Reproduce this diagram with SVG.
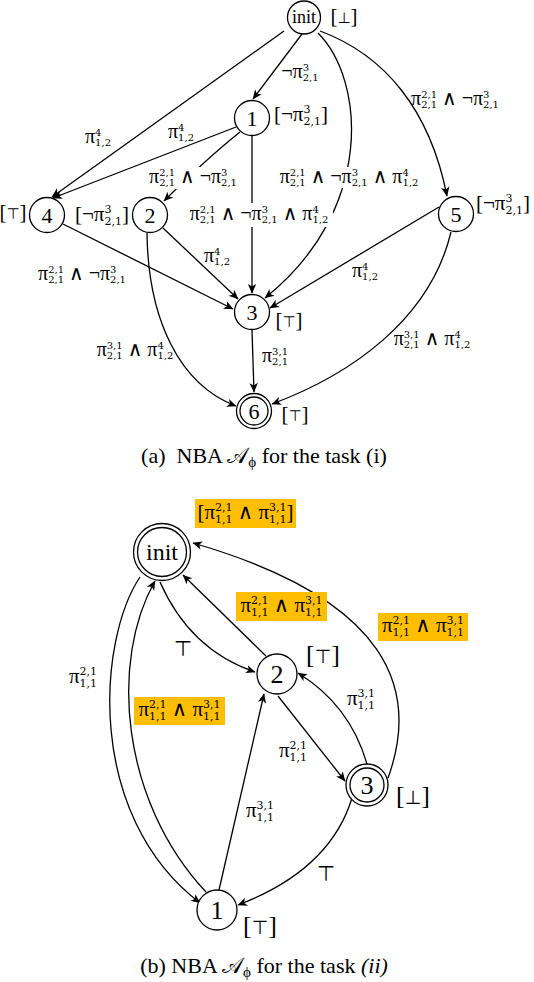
<svg xmlns="http://www.w3.org/2000/svg" width="534" height="982" viewBox="0 0 534 982">
<defs>
<marker id="ar" viewBox="-10 -5 11 10" refX="0" refY="0" markerWidth="11" markerHeight="10" orient="auto" markerUnits="userSpaceOnUse"><path d="M0.5,0 L-9,-4.2 L-6.5,0 L-9,4.2 Z" fill="#000"/></marker>
<style>
.e{fill:none;stroke:#000;stroke-width:1.3;marker-end:url(#ar)}
.nc{fill:#fff;stroke:#000;stroke-width:1.3}
.m{font-family:"Liberation Serif","DejaVu Serif",serif;font-size:20px;white-space:pre;text-anchor:middle}
.m2{font-family:"Liberation Serif","DejaVu Serif",serif;font-size:21px;white-space:pre;text-anchor:middle}
.s{font-family:"DejaVu Serif",serif;font-size:10px}
.s2{font-family:"DejaVu Serif",serif;font-size:11px}
.ann{font-family:"Liberation Serif","DejaVu Serif",serif;font-size:21px;white-space:pre;text-anchor:middle}
.ann2{font-family:"Liberation Serif","DejaVu Serif",serif;font-size:26px;white-space:pre;text-anchor:middle}
.t1{font-family:"DejaVu Sans",sans-serif;font-size:15px}
.t2{font-family:"DejaVu Sans",sans-serif;font-size:19px}
.tt{font-family:"DejaVu Sans",sans-serif;font-size:21px;text-anchor:middle}
.nd{font-family:"Liberation Serif",serif;font-size:22px;text-anchor:middle}
.nd2{font-family:"Liberation Serif",serif;font-size:26px;text-anchor:middle}
.cap{font-family:"Liberation Serif","DejaVu Serif",serif;font-size:22px;white-space:pre;text-anchor:middle}
.wb{fill:#fff}
.ob{fill:#FFBF00}
</style>
</defs>
<g id="connectors">
<path class="e" d="M284,31 L52,197"/>
<path class="e" d="M236,127 L53,198"/>
<path class="e" d="M302,34 L253,99"/>
<path class="e" d="M320,31 C385,55 430,110 447,196"/>
<path class="e" d="M318,33 C365,80 375,210 265,298"/>
<path class="e" d="M240,132 Q205,160 164,201"/>
<path class="e" d="M252,136 L252,293"/>
<path class="e" d="M63,224 L233,309"/>
<path class="e" d="M163,228 L238,299"/>
<path class="e" d="M147,233 C148,320 180,385 236,406"/>
<path class="e" d="M439,207 L270,308"/>
<path class="e" d="M451,232 C430,320 350,375 272,404"/>
<path class="e" d="M252,330 L254,392"/>
<path class="e" d="M140,577 C98,640 85,815 200,903"/>
<path class="e" d="M206,892 C120,800 110,660 155,581"/>
<path class="e" d="M160,582 Q190,650 255,672"/>
<path class="e" d="M266,656 L183,575"/>
<path class="e" d="M388,778 C420,690 390,600 193,543"/>
<path class="e" d="M278,696 L345,781"/>
<path class="e" d="M367,764 Q350,705 298,673"/>
<path class="e" d="M219,890 L264,694"/>
<path class="e" d="M352,798 Q330,870 238,905"/>
<rect class="wb" x="146" y="167" width="94" height="22"/>
<rect class="wb" x="275" y="167" width="148" height="21"/>
<rect class="wb" x="185" y="203" width="148" height="24"/>
<text class="m" x="98" y="143">π<tspan class="s" dy="-7.5">4</tspan><tspan class="s" dx="-6.36" dy="10.5">1,2</tspan></text>
<text class="m" x="181" y="138">π<tspan class="s" dy="-7.5">4</tspan><tspan class="s" dx="-6.36" dy="10.5">1,2</tspan></text>
<text class="m" x="300" y="78">¬π<tspan class="s" dy="-7.5">3</tspan><tspan class="s" dx="-6.36" dy="10.5">2,1</tspan></text>
<text class="m" x="455" y="105">π<tspan class="s" dy="-7.5">2,1</tspan><tspan class="s" dx="-15.9" dy="10.5">2,1</tspan><tspan dy="-3"> ∧ ¬π</tspan><tspan class="s" dy="-7.5">3</tspan><tspan class="s" dx="-6.36" dy="10.5">2,1</tspan></text>
<text class="m" x="193" y="183">π<tspan class="s" dy="-7.5">2,1</tspan><tspan class="s" dx="-15.9" dy="10.5">2,1</tspan><tspan dy="-3"> ∧ ¬π</tspan><tspan class="s" dy="-7.5">3</tspan><tspan class="s" dx="-6.36" dy="10.5">2,1</tspan></text>
<text class="m" x="349" y="183">π<tspan class="s" dy="-7.5">2,1</tspan><tspan class="s" dx="-15.9" dy="10.5">2,1</tspan><tspan dy="-3"> ∧ ¬π</tspan><tspan class="s" dy="-7.5">3</tspan><tspan class="s" dx="-6.36" dy="10.5">2,1</tspan><tspan dy="-3"> ∧ π</tspan><tspan class="s" dy="-7.5">4</tspan><tspan class="s" dx="-6.36" dy="10.5">1,2</tspan></text>
<text class="m" x="259" y="220">π<tspan class="s" dy="-7.5">2,1</tspan><tspan class="s" dx="-15.9" dy="10.5">2,1</tspan><tspan dy="-3"> ∧ ¬π</tspan><tspan class="s" dy="-7.5">3</tspan><tspan class="s" dx="-6.36" dy="10.5">2,1</tspan><tspan dy="-3"> ∧ π</tspan><tspan class="s" dy="-7.5">4</tspan><tspan class="s" dx="-6.36" dy="10.5">1,2</tspan></text>
<text class="m" x="217" y="262">π<tspan class="s" dy="-7.5">4</tspan><tspan class="s" dx="-6.36" dy="10.5">1,2</tspan></text>
<text class="m" x="82" y="280">π<tspan class="s" dy="-7.5">2,1</tspan><tspan class="s" dx="-15.9" dy="10.5">2,1</tspan><tspan dy="-3"> ∧ ¬π</tspan><tspan class="s" dy="-7.5">3</tspan><tspan class="s" dx="-6.36" dy="10.5">2,1</tspan></text>
<text class="m" x="365" y="277">π<tspan class="s" dy="-7.5">4</tspan><tspan class="s" dx="-6.36" dy="10.5">1,2</tspan></text>
<text class="m" x="135" y="356">π<tspan class="s" dy="-7.5">3,1</tspan><tspan class="s" dx="-15.9" dy="10.5">2,1</tspan><tspan dy="-3"> ∧ π</tspan><tspan class="s" dy="-7.5">4</tspan><tspan class="s" dx="-6.36" dy="10.5">1,2</tspan></text>
<text class="m" x="275" y="362">π<tspan class="s" dy="-7.5">3,1</tspan><tspan class="s" dx="-15.9" dy="10.5">2,1</tspan></text>
<text class="m" x="432" y="345">π<tspan class="s" dy="-7.5">3,1</tspan><tspan class="s" dx="-15.9" dy="10.5">2,1</tspan><tspan dy="-3"> ∧ π</tspan><tspan class="s" dy="-7.5">4</tspan><tspan class="s" dx="-6.36" dy="10.5">1,2</tspan></text>
<rect class="ob" x="236" y="592" width="91" height="29"/>
<rect class="ob" x="378" y="613" width="90" height="28"/>
<rect class="ob" x="134" y="697" width="91" height="28"/>
<text class="m2" x="281.5" y="612">π<tspan class="s2" dy="-8">2,1</tspan><tspan class="s2" dx="-17.5" dy="12">1,1</tspan><tspan dy="-4"> ∧ π</tspan><tspan class="s2" dy="-8">3,1</tspan><tspan class="s2" dx="-17.5" dy="12">1,1</tspan></text>
<text class="m2" x="423" y="632">π<tspan class="s2" dy="-8">2,1</tspan><tspan class="s2" dx="-17.5" dy="12">1,1</tspan><tspan dy="-4"> ∧ π</tspan><tspan class="s2" dy="-8">3,1</tspan><tspan class="s2" dx="-17.5" dy="12">1,1</tspan></text>
<text class="m2" x="179.5" y="716">π<tspan class="s2" dy="-8">2,1</tspan><tspan class="s2" dx="-17.5" dy="12">1,1</tspan><tspan dy="-4"> ∧ π</tspan><tspan class="s2" dy="-8">3,1</tspan><tspan class="s2" dx="-17.5" dy="12">1,1</tspan></text>
<text class="m2" x="83" y="683">π<tspan class="s2" dy="-8">2,1</tspan><tspan class="s2" dx="-17.5" dy="12">1,1</tspan></text>
<text class="m2" x="361" y="705">π<tspan class="s2" dy="-8">3,1</tspan><tspan class="s2" dx="-17.5" dy="12">1,1</tspan></text>
<text class="m2" x="293" y="757">π<tspan class="s2" dy="-8">2,1</tspan><tspan class="s2" dx="-17.5" dy="12">1,1</tspan></text>
<text class="m2" x="260" y="817">π<tspan class="s2" dy="-8">3,1</tspan><tspan class="s2" dx="-17.5" dy="12">1,1</tspan></text>
<text class="tt" x="183" y="656">⊤</text>
<text class="tt" x="326" y="881">⊤</text>
</g>
<g id="node-a-init"><circle class="nc" cx="304" cy="17.5" r="16.5"/><text class="nd" x="304" y="23" style="font-size:18px">init</text><text class="ann" x="344" y="23">[<tspan class="t1">⊥</tspan>]</text></g>
<g id="node-a-1"><circle class="nc" cx="252" cy="118" r="17.5"/><text class="nd" x="252" y="125.5">1</text><text class="ann" x="301" y="121">[¬π<tspan class="s2" dy="-8">3</tspan><tspan class="s2" dx="-7" dy="11.5">2,1</tspan><tspan dy="-3.5">]</tspan></text></g>
<g id="node-a-4"><circle class="nc" cx="47" cy="215" r="17.5"/><text class="nd" x="47" y="222.5">4</text><text class="ann" x="13" y="219">[<tspan class="t1">⊤</tspan>]</text></g>
<g id="node-a-2"><circle class="nc" cx="150" cy="215" r="17.5"/><text class="nd" x="150" y="222.5">2</text><text class="ann" x="102" y="221">[¬π<tspan class="s2" dy="-8">3</tspan><tspan class="s2" dx="-7" dy="11.5">2,1</tspan><tspan dy="-3.5">]</tspan></text></g>
<g id="node-a-5"><circle class="nc" cx="456" cy="214" r="17.5"/><text class="nd" x="456" y="221.5">5</text><text class="ann" x="503" y="210">[¬π<tspan class="s2" dy="-8">3</tspan><tspan class="s2" dx="-7" dy="11.5">2,1</tspan><tspan dy="-3.5">]</tspan></text></g>
<g id="node-a-3"><circle class="nc" cx="252" cy="312" r="17.5"/><text class="nd" x="252" y="319.5">3</text><text class="ann" x="289" y="327">[<tspan class="t1">⊤</tspan>]</text></g>
<g id="node-a-6"><circle class="nc" cx="254" cy="411" r="17.5"/><circle class="nc" cx="254" cy="411" r="14"/><text class="nd" x="254" y="418.5">6</text><text class="ann" x="295" y="421">[<tspan class="t1">⊤</tspan>]</text></g>
<text class="cap" x="264" y="463">(a)  NBA 𝒜<tspan style="font-size:15px" dy="4">ϕ</tspan><tspan dy="-4"> for the task (i)</tspan></text>
<g id="node-b-init"><circle class="nc" cx="162" cy="552" r="28.5"/><circle class="nc" cx="162" cy="552" r="24.5"/><text class="nd2" x="162" y="560" style="font-size:24px">init</text><rect class="ob" x="195" y="499" width="101" height="29"/><text class="m2" x="245.5" y="519">[π<tspan class="s2" dy="-8">2,1</tspan><tspan class="s2" dx="-17.5" dy="12">1,1</tspan><tspan dy="-4"> ∧ π</tspan><tspan class="s2" dy="-8">3,1</tspan><tspan class="s2" dx="-17.5" dy="12">1,1</tspan><tspan dy="-4">]</tspan></text></g>
<g id="node-b-2"><circle class="nc" cx="277" cy="674" r="20"/><text class="nd2" x="277" y="683">2</text><text class="ann2" x="323" y="663">[<tspan class="t2">⊤</tspan>]</text></g>
<g id="node-b-3"><circle class="nc" cx="367" cy="785" r="21"/><circle class="nc" cx="367" cy="785" r="17"/><text class="nd2" x="367" y="794">3</text><text class="ann2" x="413" y="804">[<tspan class="t2">⊥</tspan>]</text></g>
<g id="node-b-1"><circle class="nc" cx="217" cy="910" r="20"/><text class="nd2" x="217" y="919">1</text><text class="ann2" x="260" y="934">[<tspan class="t2">⊤</tspan>]</text></g>
<text class="cap" x="264" y="973">(b) NBA 𝒜<tspan style="font-size:15px" dy="4">ϕ</tspan><tspan dy="-4"> for the task </tspan><tspan style="font-style:italic">(ii)</tspan></text>
</svg>
